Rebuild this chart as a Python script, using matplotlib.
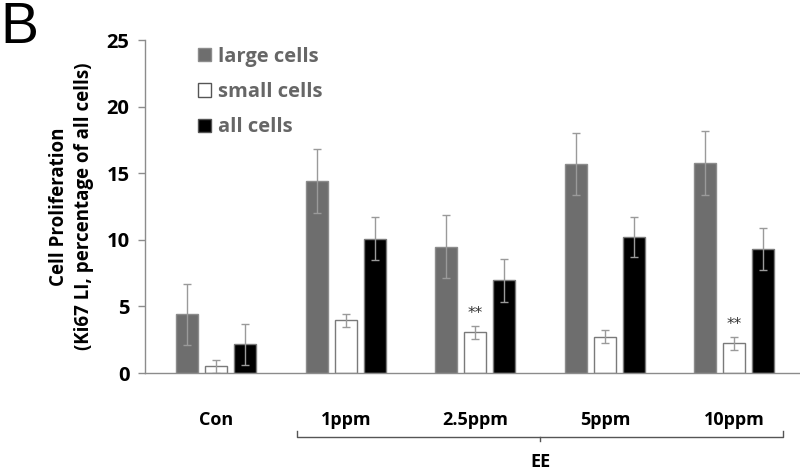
import matplotlib
matplotlib.use("Agg")
import matplotlib.pyplot as plt
import numpy as np
from matplotlib.patches import Patch
import matplotlib.transforms as mtrans

groups = ["Con", "1ppm", "2.5ppm", "5ppm", "10ppm"]
large = [4.4, 14.45, 9.5, 15.7, 15.8]
large_err = [2.3, 2.4, 2.4, 2.3, 2.4]
small = [0.5, 3.95, 3.05, 2.72, 2.22]
small_err = [0.5, 0.5, 0.5, 0.5, 0.5]
allc = [2.15, 10.1, 6.97, 10.2, 9.3]
all_err = [1.55, 1.6, 1.6, 1.5, 1.6]
series_labels = ["large cells", "small cells", "all cells"]
sig_marks = {2: "**", 4: "**"}

plt.rcParams['font.family'] = ['Open Sans', 'DejaVu Sans']

fig = plt.figure(figsize=(8, 4.72), dpi=100)
ax = fig.add_axes([0.181, 0.2097, 0.819, 0.7053])

x = np.arange(len(groups))
w = 0.17
step = 0.224
ecol = '#9a9a9a'
ekw = dict(ecolor=ecol, elinewidth=1.0, capsize=3, capthick=1.0)
ax.bar(x - step, large, w, color='#6e6e6e', edgecolor='#8c8c8c', linewidth=1,
       yerr=large_err, error_kw=ekw, zorder=2)
ax.bar(x, small, w, color='white', edgecolor='#7a7a7a', linewidth=1,
       yerr=small_err, error_kw=ekw, zorder=2)
ax.bar(x + step, allc, w, color='black', edgecolor='#7a7a7a', linewidth=1,
       yerr=all_err, error_kw=ekw, zorder=2)

for i, s in sig_marks.items():
    ax.text(x[i], small[i] + small_err[i] + 0.35, s, ha='center', va='bottom',
            fontsize=11, color='#333333', family='DejaVu Sans')

ax.set_xlim(-0.552, 4.506)
ax.set_ylim(0, 25)
ax.set_yticks([0, 5, 10, 15, 20, 25])
ax.set_yticklabels(["0", "5", "10", "15", "20", "25"], fontsize=14.5, fontweight='bold')
ax.set_xticks(x)
ax.set_xticklabels(groups, fontsize=13, fontweight='bold')
ax.tick_params(axis='x', length=0, pad=27)
ax.tick_params(axis='y', length=5, color='#8c8c8c', width=1, pad=6)
for sp in ['top', 'right']:
    ax.spines[sp].set_visible(False)
for sp in ['left', 'bottom']:
    ax.spines[sp].set_color('#8c8c8c')
    ax.spines[sp].set_linewidth(1)

ax.set_ylabel("Cell Proliferation\n(Ki67 LI, percentage of all cells)",
              fontsize=13.5, fontweight='bold', labelpad=9, linespacing=1.3)

# EE bracket
trans = mtrans.blended_transform_factory(ax.transData, fig.transFigure)
yb = 1 - 437 / 472
x0, x1, xc = 0.62, 4.375, 2.5
ax.plot([x0, x0, x1, x1], [yb + 0.012, yb, yb, yb + 0.012], transform=trans,
        color='#555555', lw=1, clip_on=False)
ax.plot([xc, xc], [yb, yb - 0.008], transform=trans, color='#555555', lw=1, clip_on=False)
ax.text(xc, 1 - 462 / 472, "EE", transform=trans, ha='center', va='center',
        fontsize=13, fontweight='bold')

handles = [Patch(facecolor='#6e6e6e', edgecolor='#8c8c8c'),
           Patch(facecolor='white', edgecolor='#555555'),
           Patch(facecolor='black', edgecolor='#555555')]
leg = ax.legend(handles, series_labels, loc='upper left', bbox_to_anchor=(0.237, 0.918),
                bbox_transform=fig.transFigure, frameon=False, fontsize=14.5,
                handlelength=0.65, handleheight=0.65, handletextpad=0.35,
                labelspacing=0.76, borderaxespad=0)
for t in leg.get_texts():
    t.set_color('#666666')
    t.set_fontweight('bold')

fig.text(0.0, 1 - 43 / 472, "B", fontsize=41, family='Liberation Sans',
         ha='left', va='baseline')

fig.savefig("out.png", dpi=100)
